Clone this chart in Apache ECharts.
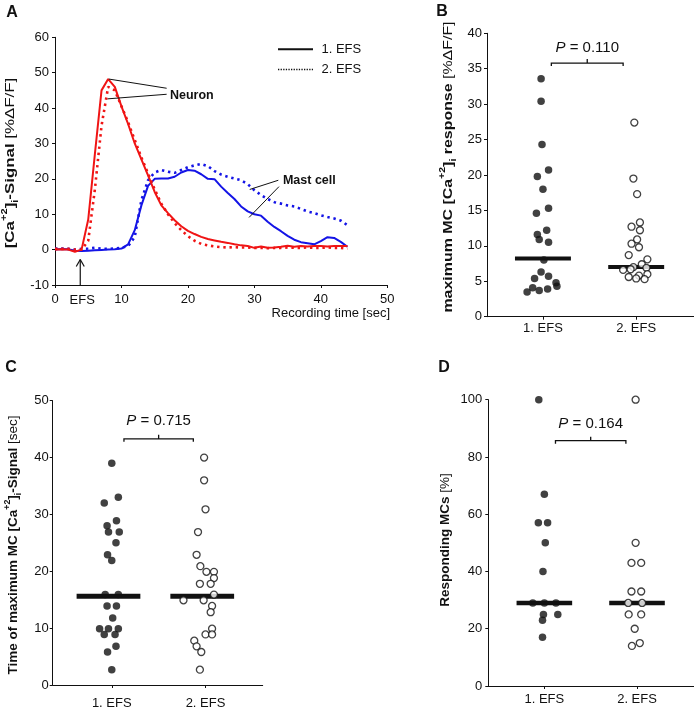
<!DOCTYPE html>
<html><head><meta charset="utf-8">
<script src="https://cdn.jsdelivr.net/npm/echarts@6/dist/echarts.min.js"></script>
<style>html,body{margin:0;padding:0;background:#fff}#c{width:694px;height:710px}</style>
</head><body><div id="c"></div>
<script>
// ---------- Panel A: time courses ----------
const timeSec = [0,1,2,3,4,5,6,7,8,9,10,11,12,13,14,15,16,17,18,19,20,21,22,23,24,25,26,27,28,29,30,31,32,33,34,35,36,37,38,39,40,41,42,43,44];
const neuronEFS1 = [0,0.1,0,-0.6,0,8.5,27,45,48.2,46,40.5,35.5,30,25.5,21,16.3,12.5,10.3,8.3,6.6,5.3,4.4,3.6,3.0,2.6,2.2,1.9,1.5,1.2,1.0,0.5,0.9,0.5,0.6,0.8,1.1,0.8,1.0,0.9,1.0,1.0,0.9,1.0,1.0,1.0];
const neuronEFS2 = [0.2,0.2,0.2,0,0,2.5,17,35,46,45,40.5,36,31,26,21.5,17,13,10,7.5,5.5,3.8,2.5,1.6,1.2,0.9,0.7,0.6,0.7,0.6,0.6,0.5,0.5,0.4,0.5,0.5,0.6,0.5,0.5,0.6,0.5,0.5,0.6,0.5,0.5,0.3];
const mastEFS1 = [0,0.2,0.1,-0.3,-0.4,-0.3,-0.2,-0.1,0,0.1,0.3,1.5,5.5,12.5,18,20,20.1,20.1,20.6,21.8,22.5,22.3,21.3,20,19.9,17.8,16,14.3,12.2,10.8,10,9.6,7.9,6.4,5.2,3.9,2.8,2.1,1.8,1.5,2.4,3.5,3.3,2.2,0.8];
const mastEFS2 = [0.3,0.3,0.2,0,0.2,0.3,0.5,0.3,0.2,0.3,0.5,1.0,3.6,14,19.6,21.8,22.5,22,21.7,22.5,23.3,23.8,24.2,23.6,22.2,21.2,20.6,20.1,19.6,18.5,16.8,15.4,14.3,13.4,13,12.5,12.2,11.5,10.8,10.3,9.7,9.2,8.8,8.2,6.9];
const efsTime = 3.8;

// ---------- Scatter panels ----------
const groups = ['1. EFS', '2. EFS'];
// B: maximum MC response
const maxResp1 = [33.6,30.4,24.3,20.7,19.8,18.0,15.3,14.6,12.2,11.6,10.9,10.5,8.0,6.3,5.7,5.4,4.8,4.3,4.1,3.9,3.7,3.5];
const maxResp1Jit = [-0.02,-0.02,-0.01,0.06,-0.06,0,0.06,-0.07,0.04,-0.06,-0.04,0.06,0.01,-0.02,0.06,-0.09,0.14,0.15,-0.11,0.05,-0.04,-0.17];
const maxResp2 = [27.4,19.5,17.3,13.3,12.7,12.2,10.9,10.3,9.8,8.7,8.1,7.4,7.0,6.7,6.6,6.9,6.0,5.8,5.6,5.4,5.3];
const maxResp2Jit = [-0.02,-0.03,0.01,0.04,-0.05,0.04,0.01,-0.05,0.03,-0.08,0.12,0.06,-0.03,-0.06,-0.14,0.11,0.12,0.03,-0.08,0,0.09];
const maxRespMedian = [8.2, 7.0];
const maxRespP = 'P = 0.110';
// C: time of maximum
const tMax1 = [39.0,33.0,32.0,28.9,28.0,26.9,26.9,25.0,22.9,21.9,15.9,15.9,13.9,13.9,11.8,9.9,9.9,9.9,8.9,8.9,6.8,5.8,2.7];
const tMax1Jit = [0,0.07,-0.08,0.05,-0.05,-0.035,0.08,0.045,-0.045,0,-0.07,0.07,-0.05,0.05,0.01,-0.13,-0.035,0.07,-0.08,0.035,0.045,-0.045,0];
const tMax2 = [40.0,36.0,30.9,26.9,22.9,20.9,19.9,19.9,18.8,17.8,17.8,15.9,14.9,14.9,13.9,12.8,9.9,8.9,8.9,7.8,6.8,5.8,2.7];
const tMax2Jit = [-0.015,-0.015,0,-0.08,-0.095,-0.055,0.01,0.09,0.09,-0.06,0.055,0.09,-0.235,-0.02,0.07,0.055,0.07,0,0.07,-0.12,-0.095,-0.045,-0.06];
const tMaxMedian = [15.6, 15.6];
const tMaxP = 'P = 0.715';
// D: responding MCs
const resp1 = [100,67,57,57,50,40,29,29,29,25,25,23,17];
const resp1Jit = [-0.06,0,-0.065,0.035,0.01,-0.015,-0.125,0,0.125,-0.01,0.145,-0.02,-0.02];
const resp2 = [100,50,43,43,33,33,29,29,25,25,20,14,15];
const resp2Jit = [-0.015,-0.015,-0.06,0.045,-0.06,0.045,-0.095,0.055,-0.09,0.045,-0.025,-0.055,0.03];
const respMedian = [29, 29];
const respP = 'P = 0.164';

// ---------- styling / layout ----------
const FONT = '"Liberation Sans", Arial, Helvetica, sans-serif';
const INK = '#111';
const RED = '#f01414';
const BLUE = '#1414e6';

function yAx(gi, min, max, interval, margin) {
  return { type:'value', gridIndex:gi, min, max, interval,
    axisLine:{show:true, lineStyle:{color:INK, width:1}},
    axisTick:{show:true, length:3, lineStyle:{color:INK}},
    axisLabel:{fontFamily:FONT, fontSize:13, color:INK, margin},
    splitLine:{show:false} };
}
function xCat(gi, min, max, margin) {
  return { type:'value', gridIndex:gi, min, max,
    axisLine:{show:true, onZero:false, lineStyle:{color:INK, width:1}},
    axisTick:{show:true, length:3, customValues:[1,2], lineStyle:{color:INK}},
    axisLabel:{fontFamily:FONT, fontSize:13, color:INK, margin, customValues:[1,2],
      formatter: v => groups[Math.round(v)-1] || ''},
    splitLine:{show:false} };
}
function scatter(gi, vals, jit, pos, open) {
  return { type:'scatter', xAxisIndex:gi, yAxisIndex:gi, z:5,
    data: vals.map((v,i)=>[pos + jit[i], v]),
    symbol:'circle', symbolSize: open ? 7 : 7.5,
    itemStyle: open ? {color:'#fff', borderColor:INK, borderWidth:1.3} : {color:INK},
    silent:true, animation:false };
}
function median(gi, val, pos, hw, width) {
  return { type:'line', xAxisIndex:gi, yAxisIndex:gi, z:3,
    data: [[pos-hw, val],[pos+hw, val]], symbol:'none',
    lineStyle:{color:INK, width}, silent:true, animation:false };
}
function trace(vals, color, dotted) {
  return { type:'line', xAxisIndex:0, yAxisIndex:0,
    data: timeSec.map((t,i)=>[t, vals[i]]), showSymbol:false, symbol:'none',
    lineStyle: dotted ? {color, width:2.6, type:[2.4,3.8], cap:'butt'} : {color, width:2},
    silent:true, animation:false };
}

const chart = echarts.init(document.getElementById('c'));
chart.setOption({
  animation:false,
  backgroundColor:'#fff',
  grid:[
    {left:55, top:37.3, width:332.3, height:247.7},
    {left:487, top:33.3, width:207, height:283.4},
    {left:52.7, top:400.7, width:210, height:285},
    {left:488.3, top:399.7, width:206, height:286.3}
  ],
  xAxis:[
    { type:'value', gridIndex:0, min:0, max:50, interval:10,
      axisLine:{show:true, onZero:false, lineStyle:{color:INK}},
      axisTick:{show:true, length:3, lineStyle:{color:INK}},
      axisLabel:{fontFamily:FONT, fontSize:13, color:INK, margin:8},
      splitLine:{show:false} },
    xCat(1, 0.4, 2.62, 5),
    xCat(2, 0.37, 2.61, 12),
    xCat(3, 0.395, 2.615, 7)
  ],
  yAxis:[
    yAx(0, -10, 60, 10, 6),
    yAx(1, 0, 40, 5, 5),
    yAx(2, 0, 50, 10, 4),
    yAx(3, 0, 100, 20, 6)
  ],
  series:[
    trace(mastEFS2, BLUE, true),
    trace(mastEFS1, BLUE, false),
    trace(neuronEFS2, RED, true),
    trace(neuronEFS1, RED, false),
    median(1, maxRespMedian[0], 1, 0.3, 4),
    median(1, maxRespMedian[1], 2, 0.3, 4),
    scatter(1, maxResp1, maxResp1Jit, 1, false),
    scatter(1, maxResp2, maxResp2Jit, 2, true),
    median(2, tMaxMedian[0], 0.965, 0.34, 5),
    median(2, tMaxMedian[1], 1.965, 0.34, 5),
    scatter(2, tMax1, tMax1Jit, 1, false),
    scatter(2, tMax2, tMax2Jit, 2, true),
    median(3, respMedian[0], 1, 0.3, 4.5),
    median(3, respMedian[1], 2, 0.3, 4.5),
    scatter(3, resp1, resp1Jit, 1, false),
    scatter(3, resp2, resp2Jit, 2, true)
  ]
});

// ---------- annotations ----------
const px = (gi, p) => chart.convertToPixel({gridIndex:gi}, p);
const G = [];
function ln(a, b, w) { G.push({type:'line', silent:true, z:10, shape:{x1:a[0],y1:a[1],x2:b[0],y2:b[1]}, style:{stroke:INK, lineWidth:w||1}}); }
function tx(x, y, text, o) {
  o = o || {};
  G.push({type:'text', silent:true, z:10, x, y, rotation:o.rotation||0, scaleX:o.scaleX||1,
    style:Object.assign({text, fontFamily:FONT, fontSize:o.fontSize||13, fontWeight:o.fontWeight||'normal',
      fill:INK, align:o.align||'left', verticalAlign:'middle'}, o.rich ? {rich:o.rich} : {})});
}
// panel letters
tx(12, 13, 'A', {fontSize:16, fontWeight:'bold', align:'center'});
tx(442, 12, 'B', {fontSize:16, fontWeight:'bold', align:'center'});
tx(11, 368, 'C', {fontSize:16, fontWeight:'bold', align:'center'});
tx(444, 368, 'D', {fontSize:16, fontWeight:'bold', align:'center'});

// rotated y titles with super/subscripts
function richSet(fs) {
  return {
    b:{fontFamily:FONT, fontSize:fs, fontWeight:'bold', lineHeight:20, fill:INK},
    n:{fontFamily:FONT, fontSize:fs, fontWeight:'normal', lineHeight:20, fill:INK},
    sup:{fontFamily:FONT, fontSize:fs*0.66, fontWeight:'bold', lineHeight:10, verticalAlign:'top', fill:INK},
    sub:{fontFamily:FONT, fontSize:fs*0.66, fontWeight:'bold', lineHeight:10, verticalAlign:'bottom', fill:INK}
  };
}
const rot = Math.PI/2;
tx(10, 163, '{b|[Ca}{sup|+2}{b|]}{sub|i}{b|-Signal}{n| [%ΔF/F]}', {rotation:rot, scaleX:1.25, align:'center', rich:richSet(13.5)});
tx(448, 167, '{b|maximum MC [Ca}{sup|+2}{b|]}{sub|i}{b| response}{n| [%ΔF/F]}', {rotation:rot, scaleX:1.18, align:'center', rich:richSet(13.5)});
tx(13, 545, '{b|Time of maximum MC [Ca}{sup|+2}{b|]}{sub|i}{b|-Signal}{n| [sec]}', {rotation:rot, align:'center', rich:richSet(13.5)});
tx(445, 540, '{b|Responding MCs}{n| [%]}', {rotation:rot, align:'center', rich:richSet(13.5)});

// panel A extras
tx(390, 313, 'Recording time [sec]', {align:'right'});
const tip = px(0, [efsTime, -2.8]), base = px(0, [efsTime, -10]);
ln(tip, base, 1.2);
ln(tip, [tip[0]-4, tip[1]+7], 1.2);
ln(tip, [tip[0]+4, tip[1]+7], 1.2);
tx(base[0]+2, 300, 'EFS', {align:'center'});
// legend
ln([278, 49.3], [313, 49.3], 2);
G.push({type:'line', silent:true, z:10, shape:{x1:278,y1:69.5,x2:313,y2:69.5}, style:{stroke:INK, lineWidth:1.6, lineDash:[1.3,1.3]}});
tx(321.5, 49.5, '1. EFS', {fontSize:13});
tx(321.5, 69.5, '2. EFS', {fontSize:13});
// Neuron / Mast cell labels
ln(px(0,[8.1,48.2]), px(0,[16.8,45.6]));
ln(px(0,[7.9,42.6]), px(0,[16.8,43.9]));
const nl = px(0,[17.3,43.5]);
tx(nl[0], nl[1], 'Neuron', {fontWeight:'bold', fontSize:12.5});
ln(px(0,[29.3,17.0]), px(0,[33.6,19.6]));
ln(px(0,[29.2,9.1]), px(0,[33.7,17.8]));
const ml = px(0,[34.3,19.6]);
tx(ml[0], ml[1], 'Mast cell', {fontWeight:'bold', fontSize:12.5});

// brackets with P values
function bracket(gi, x1, x2, y, label, ly) {
  const a = px(gi,[x1,y]), b = px(gi,[x2,y]);
  const m = (a[0]+b[0])/2;
  G.push({type:'polyline', silent:true, z:10,
    shape:{points:[[a[0],a[1]+3],[a[0],a[1]],[m,a[1]],[m,a[1]-4],[m,a[1]],[b[0],b[1]],[b[0],b[1]+3]]},
    style:{stroke:INK, lineWidth:1.3, fill:null}});
  const t = px(gi,[(x1+x2)/2, ly]);
  tx(t[0], t[1], '{i|P}' + label.slice(1), {fontSize:15, align:'center',
    rich:{i:{fontFamily:FONT, fontSize:15, fontStyle:'italic', fill:INK}}});
}
bracket(1, 1.09, 1.86, 35.8, maxRespP, 37.9);
bracket(2, 1.13, 1.87, 43.3, tMaxP, 46.5);
bracket(3, 1.12, 1.88, 85.7, respP, 91.6);

chart.setOption({graphic: G});
</script></body></html>
